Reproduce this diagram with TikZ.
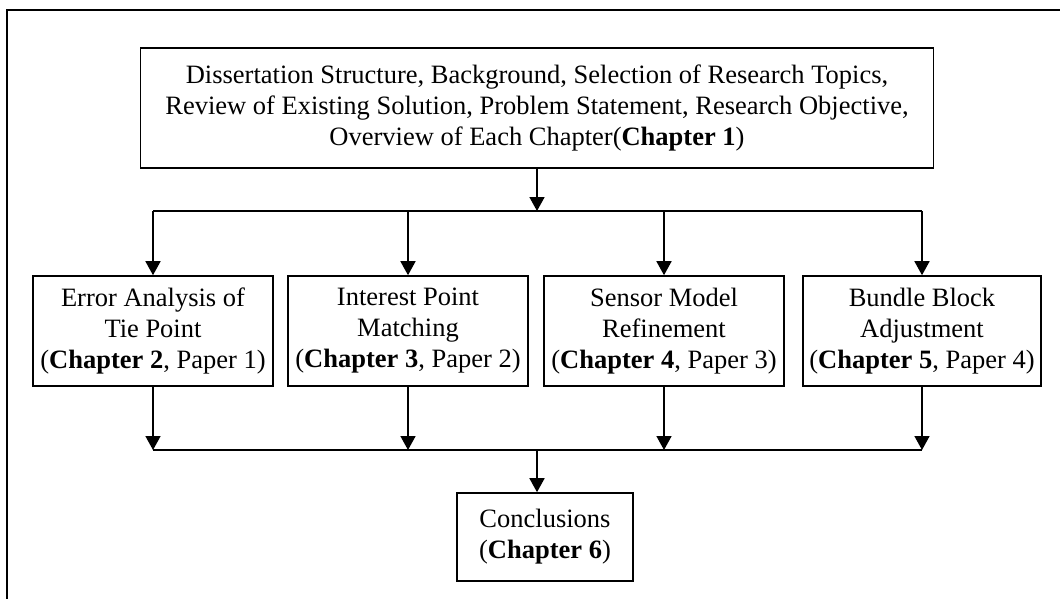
\documentclass[tikz,border=0pt]{standalone}
\usepackage{fontspec}
\setmainfont{Liberation Serif}
\usetikzlibrary{arrows.meta}
\tikzset{
  box/.style={draw, line width=1.6pt, align=center, inner sep=0pt,
    font=\fontsize{26.5}{31}\selectfont},
  flow/.style={line width=1.6pt},
  arr/.style={flow, -{Triangle[length=14pt,width=15pt]}},
}
\begin{document}
\begin{tikzpicture}[x=1pt,y=-1pt]
\useasboundingbox (0,0) rectangle (1060,599);
\clip (0,0) rectangle (1060,599);
% outer frame
\draw[line width=1.6pt] (7,10) rectangle (1080,620);
% boxes
\node[box, minimum width=793pt, minimum height=120pt] (intro) at (537,108)
  {Dissertation Structure, Background, Selection of Research Topics,\\
   Review of Existing Solution, Problem Statement, Research Objective,\\
   Overview of Each Chapter(\textbf{Chapter 1})};
\node[box, minimum width=240pt, minimum height=110pt] (c2) at (153,331)
  {Error Analysis of\\ Tie Point\\ (\textbf{Chapter 2}, Paper 1)};
\node[box, minimum width=240pt, minimum height=110pt] (c3) at (408,331)
  {Interest Point\\ Matching\\ (\textbf{Chapter 3}, Paper 2)};
\node[box, minimum width=240pt, minimum height=110pt] (c4) at (664,331)
  {Sensor Model\\ Refinement\\ (\textbf{Chapter 4}, Paper 3)};
\node[box, minimum width=238pt, minimum height=110pt] (c5) at (922,331)
  {Bundle Block\\ Adjustment\\ (\textbf{Chapter 5}, Paper 4)};
\node[box, minimum width=176pt, minimum height=88pt] (c6) at (545,537)
  {Conclusions\\ (\textbf{Chapter 6})};
% junction points
\coordinate (split) at (537,211);
\coordinate (merge) at (537,450);
\coordinate (sl) at (c2.north |- split);
\coordinate (sr) at (c5.north |- split);
\coordinate (ml) at (c2.south |- merge);
\coordinate (mr) at (c5.south |- merge);
% connectors
\draw[arr] (intro.south -| split) -- (split);
\draw[flow] (sl) -- (sr);
\foreach \n in {c2,c3,c4,c5} \draw[arr] (\n.north |- split) -- (\n.north);
\foreach \n in {c2,c3,c4,c5} \draw[arr] (\n.south) -- (\n.south |- merge);
\draw[flow] (ml) -- (mr);
\draw[arr] (merge) -- (merge |- c6.north);
\end{tikzpicture}
\end{document}
